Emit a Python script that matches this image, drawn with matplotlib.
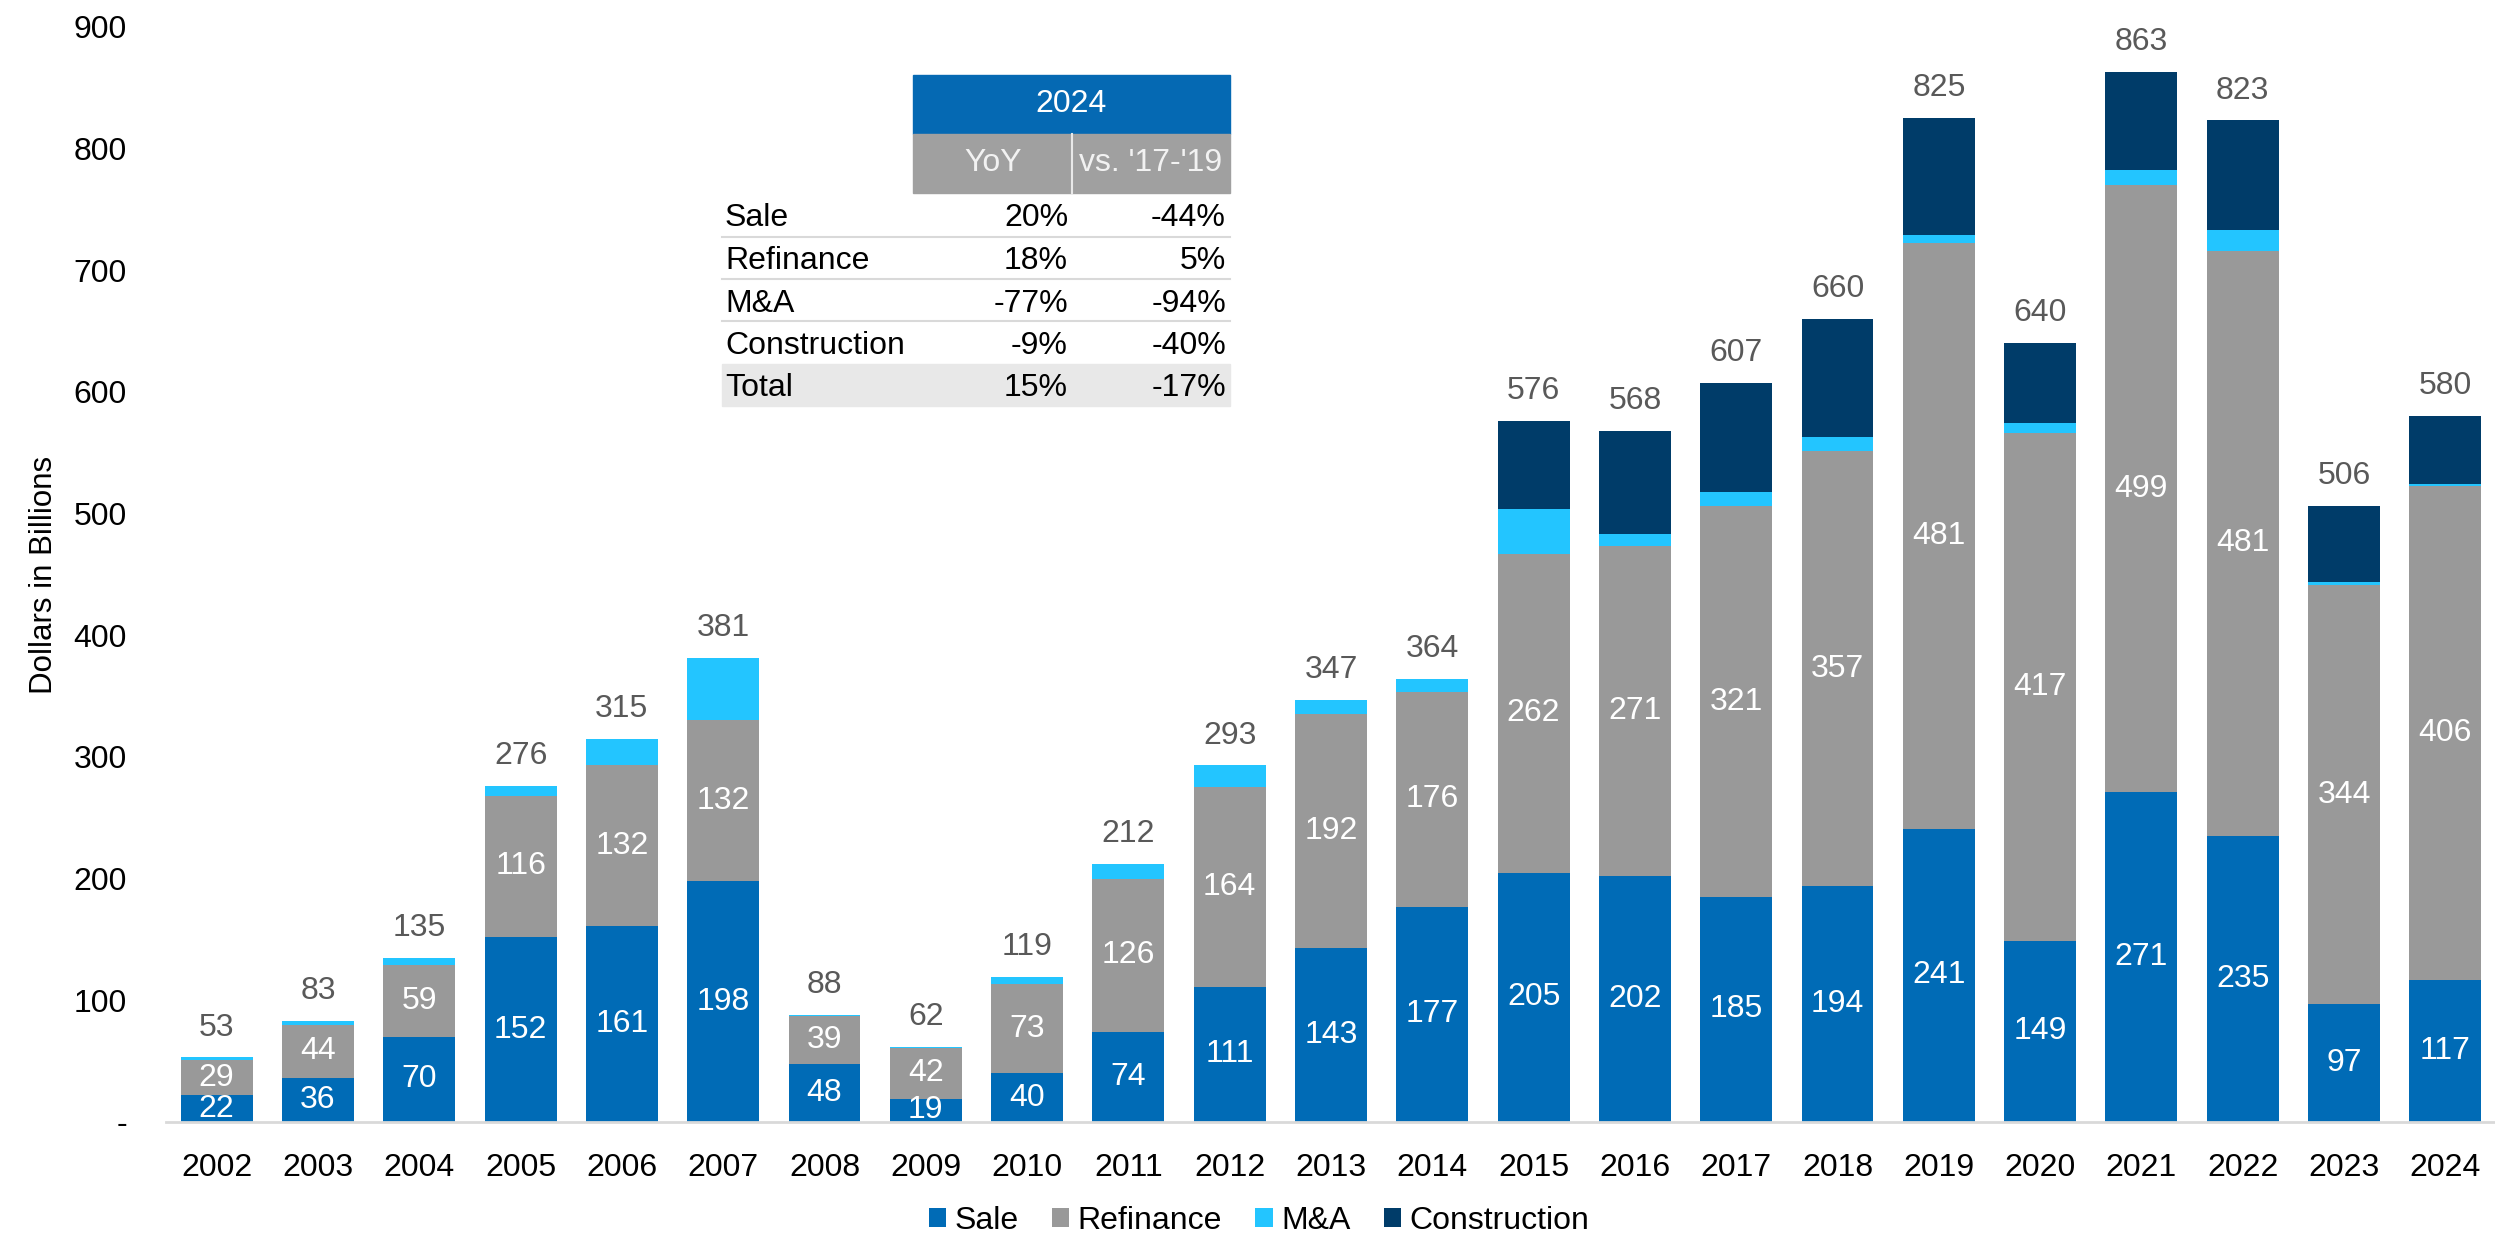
import matplotlib
matplotlib.use("Agg")
import matplotlib.pyplot as plt
from matplotlib.patches import Rectangle
import numpy as np

plt.rcParams['font.family'] = ['Liberation Sans', 'DejaVu Sans']

years = [str(y) for y in range(2002, 2025)]
sale = [22, 36, 70, 152, 161, 198, 48, 19, 40, 74, 111, 143, 177, 205, 202, 185, 194, 241, 149, 271, 235, 97, 117]
refinance = [29, 44, 59, 116, 132, 132, 39, 42, 73, 126, 164, 192, 176, 262, 271, 321, 357, 481, 417, 499, 481, 344, 406]
mna = [2, 3, 6, 8, 22, 51, 1, 1, 6, 12, 18, 12, 11, 37, 10, 12, 12, 7, 8, 12, 17, 3, 1]
construction = [0, 0, 0, 0, 0, 0, 0, 0, 0, 0, 0, 0, 0, 72, 85, 89, 97, 96, 66, 81, 90, 62, 56]
totals = [53, 83, 135, 276, 315, 381, 88, 62, 119, 212, 293, 347, 364, 576, 568, 607, 660, 825, 640, 863, 823, 506, 580]

series_names = ['Sale', 'Refinance', 'M&A', 'Construction']
colors = ['#006BB6', '#999999', '#23C5FF', '#003C69']

table_title = '2024'
table_cols = ['YoY', "vs. '17-'19"]
table_rows = ['Sale', 'Refinance', 'M&A', 'Construction', 'Total']
table_yoy = ['20%', '18%', '-77%', '-9%', '15%']
table_vs = ['-44%', '5%', '-94%', '-40%', '-17%']

W, H = 2495, 1236
fig = plt.figure(figsize=(W / 100, H / 100), dpi=100)

def fx(px):
    return px / W

def fy(py):
    return 1 - py / H

ax = fig.add_axes([fx(166), fy(1122), fx(2496) - fx(166), fy(26.7) - fy(1122)])

x = np.arange(len(years))
bw = 0.71
data = [sale, refinance, mna, construction]
bottom = np.zeros(len(years))
bars = []
for vals, name, c in zip(data, series_names, colors):
    b = ax.bar(x, vals, bw, bottom=bottom, color=c, label=name, linewidth=0)
    bars.append(b)
    bottom = bottom + np.array(vals)

FS = 23
# inside labels
for vals, base in ((sale, np.zeros(len(years))), (refinance, np.array(sale))):
    for i, v in enumerate(vals):
        ax.text(x[i], base[i] + v / 2, str(v), ha='center', va='center',
                color='white', fontsize=FS)

# totals
for i, t in enumerate(totals):
    ax.annotate(str(t), (x[i], bottom[i]), xytext=(0, 21.5), textcoords='offset points',
                ha='center', va='center', color='#595959', fontsize=FS)

ax.set_xlim(-0.5, len(years) - 0.5)
ax.set_ylim(0, 900)
ax.set_yticks(range(0, 1000, 100))
ax.set_yticklabels(['-'] + [str(v) for v in range(100, 1000, 100)])
ax.set_xticks(x)
ax.set_xticklabels(years)
ax.tick_params(axis='both', length=0, labelsize=FS, colors='black')
ax.tick_params(axis='y', pad=28)
ax.tick_params(axis='x', pad=22)
for s in ['top', 'right', 'left']:
    ax.spines[s].set_visible(False)
ax.spines['bottom'].set_color('#D9D9D9')
ax.spines['bottom'].set_linewidth(2)

fig.text(fx(44), fy(575), 'Dollars in Billions', rotation=90, ha='center', va='center',
         fontsize=22.5, color='black')

leg = fig.legend(handles=bars, labels=series_names, loc='center',
                 bbox_to_anchor=(fx(1259), fy(1221)), ncol=4, frameon=False,
                 fontsize=FS, handlelength=0.55, handleheight=0.55, handletextpad=0.25,
                 columnspacing=1.05, borderpad=0)

# table inset
tx0, tx1 = 913, 1230
tdiv = 1072
fig.patches.append(Rectangle((fx(tx0), fy(134)), fx(tx1) - fx(tx0), fy(75) - fy(134),
                             transform=fig.transFigure, color='#0569B3', zorder=5))
fig.patches.append(Rectangle((fx(tx0), fy(193)), fx(tx1) - fx(tx0), fy(134) - fy(193),
                             transform=fig.transFigure, color='#A0A0A0', zorder=5))
fig.lines.append(plt.Line2D([fx(tdiv), fx(tdiv)], [fy(134), fy(193)], transform=fig.transFigure,
                            color='#E8E8E8', lw=1.5, zorder=6))
fig.text(fx((tx0 + tx1) / 2), fy(104), table_title, ha='center', va='center', color='white',
         fontsize=FS, zorder=7)
fig.text(fx(993), fy(163), table_cols[0], ha='center', va='center', color='#F2F2F2',
         fontsize=FS, zorder=7)
fig.text(fx(1151), fy(163), table_cols[1], ha='center', va='center', color='#F2F2F2',
         fontsize=FS, zorder=7)

row_y = [218, 261, 304, 346, 388]
# total background
fig.patches.append(Rectangle((fx(722), fy(406)), fx(tx1) - fx(722), fy(364) - fy(406),
                             transform=fig.transFigure, color='#E8E8E8', zorder=4))
for ly in [237, 279, 321]:
    fig.lines.append(plt.Line2D([fx(722), fx(tx1)], [fy(ly), fy(ly)], transform=fig.transFigure,
                                color='#D9D9D9', lw=1.5, zorder=5))
for name, a, b, ry in zip(table_rows, table_yoy, table_vs, row_y):
    fig.text(fx(725), fy(ry), name, ha='left', va='center', color='black', fontsize=FS, zorder=7)
    fig.text(fx(1068), fy(ry), a, ha='right', va='center', color='black', fontsize=FS, zorder=7)
    fig.text(fx(1226), fy(ry), b, ha='right', va='center', color='black', fontsize=FS, zorder=7)

fig.savefig('out.png', dpi=100)
